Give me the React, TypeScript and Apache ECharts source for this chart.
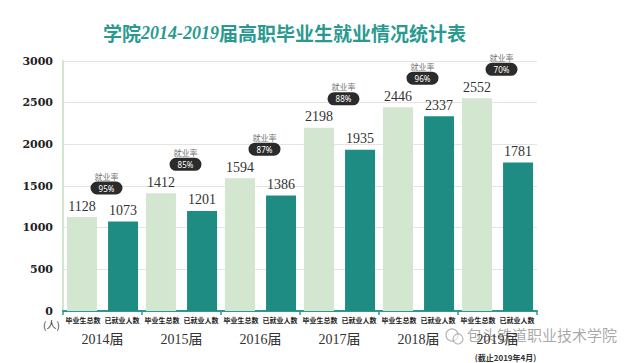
import React, { useEffect, useRef } from "react";
import * as echarts from "echarts";

const categories = ["2014届", "2015届", "2016届", "2017届", "2018届", "2019届"];
const totalGraduates = [1128, 1412, 1594, 2198, 2446, 2552];
const employed = [1073, 1201, 1386, 1935, 2337, 1781];
const employmentRate = ["95%", "85%", "87%", "88%", "96%", "70%"];
const subLabels = ["毕业生总数", "已就业人数"];
const yMin = 0;
const yMax = 3000;
const yInterval = 500;
const titleParts = ["学院", "2014-2019", "届高职毕业生就业情况统计表"];
const unitLabel = "(人)";
const rateLabel = "就业率";
const footNote = "(截止2019年4月)";
const watermark = "包头铁道职业技术学院";

const LIGHT = "#d3e6cf";
const DARK = "#1f8c83";
const TEAL = "#2a9a90";

export default function App() {
  const ref = useRef<HTMLDivElement>(null);

  useEffect(() => {
    document.body.style.margin = "0";
    const chart = echarts.init(ref.current!, null, { renderer: "svg" });
    const pillData = categories.map((_, i) => [i, Math.max(totalGraduates[i], employed[i])]);

    chart.setOption({
      animation: false,
      backgroundColor: "#ffffff",
      grid: { left: 63, right: 104, top: 61, bottom: 52, containLabel: false },
      xAxis: {
        type: "category",
        data: categories,
        axisLine: { show: true, lineStyle: { color: TEAL, width: 2 } },
        axisTick: { show: true, length: 4, lineStyle: { color: TEAL, width: 1.5 } },
        axisLabel: {
          margin: 3,
          interval: 0,
          formatter: (v: string, i: number) => {
            let s = `{s|${subLabels[0]}}{g| }{s|${subLabels[1]}}\n{y|${v}}`;
            if (i === categories.length - 1) s += `\n{n|${footNote}}`;
            return s;
          },
          rich: {
            s: { fontSize: 7, color: "#222", lineHeight: 12, fontFamily: "Noto Sans CJK SC", fontWeight: "bold" },
            g: { fontSize: 7, width: 4, lineHeight: 12 },
            y: { fontSize: 14, color: "#333", lineHeight: 27, fontFamily: "Liberation Serif, Noto Sans CJK SC" },
            n: { fontSize: 8, color: "#333", fontWeight: "bold", lineHeight: 8, fontFamily: "Noto Sans CJK SC", padding: [0, 0, 0, 16] },
          },
        },
        splitLine: { show: false },
      },
      yAxis: {
        type: "value",
        min: yMin,
        max: yMax,
        interval: yInterval,
        axisLine: { show: true, lineStyle: { color: "#d2e6cd", width: 2 } },
        axisTick: { show: false },
        axisLabel: {
          margin: 10,
          color: "#222",
          fontSize: 11,
          fontWeight: "bold",
          fontFamily: "DejaVu Serif",
          formatter: (v: number) => String(v),
        },
        splitLine: { show: true, lineStyle: { color: "#e4e4e4", width: 1 } },
      },
      series: [
        {
          type: "bar",
          name: subLabels[0],
          data: totalGraduates,
          barWidth: 30,
          barGap: "37%",
          itemStyle: { color: LIGHT },
          label: {
            show: true,
            position: "top",
            distance: 4,
            color: "#333",
            fontSize: 14,
            fontFamily: "Liberation Serif",
          },
        },
        {
          type: "bar",
          name: subLabels[1],
          data: employed,
          barWidth: 30,
          barGap: "37%",
          itemStyle: { color: DARK },
          label: {
            show: true,
            position: "top",
            distance: 4,
            color: "#333",
            fontSize: 14,
            fontFamily: "Liberation Serif",
          },
        },
        {
          type: "custom",
          data: pillData,
          encode: { x: 0, y: 1 },
          z: 10,
          clip: false,
          renderItem: (params: any, api: any) => {
            const p = api.coord([api.value(0), api.value(1)]);
            const cx = p[0] + 4;
            const cy = p[1] - 29;
            return {
              type: "group",
              children: [
                {
                  type: "rect",
                  shape: { x: cx - 16, y: cy - 6.5, width: 32, height: 13, r: 6.5 },
                  style: { fill: "#2b2b2b" },
                },
                {
                  type: "text",
                  style: {
                    text: employmentRate[params.dataIndex],
                    x: cx,
                    y: cy,
                    align: "center",
                    verticalAlign: "middle",
                    fill: "#ffffff",
                    fontSize: 8,
                    fontFamily: "Noto Sans",
                  },
                },
                {
                  type: "text",
                  style: {
                    text: rateLabel,
                    x: cx,
                    y: cy - 12,
                    align: "center",
                    verticalAlign: "middle",
                    fill: "#777",
                    fontSize: 8,
                    fontFamily: "Noto Sans CJK SC",
                  },
                },
              ],
            };
          },
        },
      ],
      graphic: [
        {
          type: "text",
          left: 103,
          top: 23,
          style: {
            text: `{a|${titleParts[0]}}{b|${titleParts[1]}}{c|${titleParts[2]}}`,
            rich: {
              a: { fontSize: 19, fontWeight: "bold", fill: TEAL, fontFamily: "Noto Sans CJK SC" },
              b: { fontSize: 18, fontWeight: "bold", fontStyle: "italic", fill: TEAL, fontFamily: "Liberation Serif" },
              c: { fontSize: 19, fontWeight: "bold", fill: TEAL, fontFamily: "Noto Sans CJK SC" },
            },
          },
        },
        {
          type: "text",
          left: 43,
          top: 319,
          style: { text: unitLabel, fontSize: 10, fill: "#333", fontFamily: "Noto Sans CJK SC" },
        },
        {
          type: "circle",
          shape: { cx: 452, cy: 335, r: 6 },
          style: { fill: "none", stroke: "rgba(150,150,150,0.7)", lineWidth: 1.2 },
        },
        {
          type: "circle",
          shape: { cx: 458, cy: 339, r: 5 },
          style: { fill: "rgba(255,255,255,0.6)", stroke: "rgba(150,150,150,0.7)", lineWidth: 1.2 },
        },
        {
          type: "text",
          left: 467,
          top: 327,
          style: { text: watermark, fontSize: 15, fill: "rgba(140,140,140,0.75)", fontFamily: "Noto Sans CJK SC" },
        },
      ],
    });

    return () => chart.dispose();
  }, []);

  return <div ref={ref} style={{ width: 641, height: 363 }} />;
}
